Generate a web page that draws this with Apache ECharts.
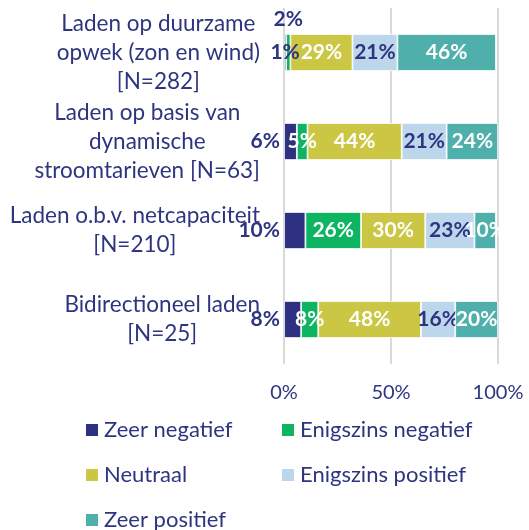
<!DOCTYPE html>
<html>
<head>
<meta charset="utf-8">
<script src="https://cdn.jsdelivr.net/npm/echarts@6/dist/echarts.min.js"></script>
<style>
  html, body { margin: 0; padding: 0; background: #ffffff; }
  #chart { width: 529px; height: 530px; }
</style>
</head>
<body>
<div id="chart"></div>
<script>
// Survey categories (one per bar, line breaks as shown on the axis)
const categories = [
  'Laden op duurzame\nopwek (zon en wind)\n[N=282]',
  'Laden op basis van\ndynamische\nstroomtarieven [N=63]',
  'Laden o.b.v. netcapaciteit\n[N=210]',
  'Bidirectioneel laden\n[N=25]'
];

// Answer shares per category, in percent
const zeerNegatief = [1, 6, 10, 8];
const enigszinsNegatief = [2, 5, 26, 8];
const neutraal = [29, 44, 30, 48];
const enigszinsPositief = [21, 21, 23, 16];
const zeerPositief = [46, 24, 10, 20];

const xTicks = [0, 50, 100];

const NAVY = '#2E3182';
const TEXT = '#2E3580';
const FONT = 'Lato';

function makeSeries(name, values, color, labelColor, position, overrides, z) {
  return {
    name: name,
    type: 'bar',
    stack: 'total',
    barWidth: 37,
    z: z || 2,
    itemStyle: { color: color, borderColor: '#ffffff', borderWidth: 0.8 },
    label: {
      show: true,
      position: position,
      distance: 4,
      formatter: '{c}%',
      color: labelColor,
      fontFamily: FONT,
      fontWeight: 'bold',
      fontSize: 21
    },
    data: values.map(function (v, i) {
      const o = overrides && overrides[i];
      return o ? { value: v, label: o } : v;
    })
  };
}

const legendBase = {
  orient: 'vertical',
  top: 419,
  height: 140,
  padding: 0,
  itemWidth: 14,
  itemHeight: 14,
  itemGap: 23,
  icon: 'rect',
  textStyle: { color: TEXT, fontFamily: FONT, fontSize: 22 }
};

const chart = echarts.init(document.getElementById('chart'), null, { renderer: 'canvas' });

chart.setOption({
  animation: false,
  backgroundColor: '#ffffff',
  grid: { left: 284, right: 31, top: 8, bottom: 166, outerBoundsMode: 'none', containLabel: false },
  xAxis: {
    type: 'value',
    min: 0,
    max: 100,
    interval: 50,
    axisLine: { show: false },
    axisTick: { show: false },
    splitLine: { show: true, lineStyle: { color: '#D9D9D9', width: 2 } },
    axisLabel: {
      margin: 19,
      color: TEXT,
      fontFamily: FONT,
      fontSize: 20,
      formatter: function (v) { return xTicks.indexOf(v) >= 0 ? v + '%' : ''; }
    }
  },
  yAxis: {
    type: 'category',
    inverse: true,
    data: categories,
    axisLine: { show: false },
    axisTick: { show: false },
    axisLabel: {
      margin: 24,
      align: 'right',
      color: TEXT,
      fontFamily: FONT,
      fontSize: 22,
      lineHeight: 29,
      formatter: function (v) {
        return v.split('\n').map(function (l) { return '{c|' + l + '}'; }).join('\n');
      },
      rich: {
        c: { align: 'center', color: TEXT, fontFamily: FONT, fontSize: 22.5, lineHeight: 29 }
      }
    }
  },
  legend: [
    Object.assign({}, legendBase, { left: 84, data: ['Zeer negatief', 'Neutraal', 'Zeer positief'] }),
    Object.assign({}, legendBase, { left: 280, data: ['Enigszins negatief', 'Enigszins positief'] })
  ],
  series: [
    makeSeries('Zeer negatief', zeerNegatief, NAVY, TEXT, 'left', [{ position: 'inside' }]),
    makeSeries('Enigszins negatief', enigszinsNegatief, '#0DB462', '#ffffff', 'inside', [{ position: 'top', color: TEXT }]),
    makeSeries('Neutraal', neutraal, '#CBC744', '#ffffff', 'inside'),
    makeSeries('Enigszins positief', enigszinsPositief, '#BCD6EC', TEXT, 'inside'),
    makeSeries('Zeer positief', zeerPositief, '#4FAFAA', '#ffffff', 'inside', null, 3)
  ]
});
</script>
</body>
</html>
